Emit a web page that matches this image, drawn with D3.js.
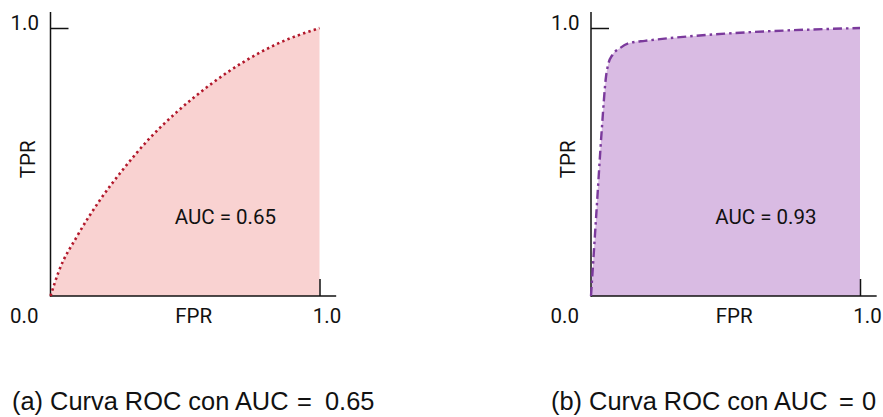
<!DOCTYPE html>
<html><head><meta charset="utf-8">
<script src="https://cdn.jsdelivr.net/npm/d3@7"></script>
<style>
html,body{margin:0;padding:0;background:#fff;}
svg{display:block;}
.tick-label{font-family:Roboto,"Liberation Sans",sans-serif;font-size:20.5px;fill:#111;}
.caption{font-family:"Liberation Sans",Arial,sans-serif;font-size:25.4px;fill:#111;}
</style></head>
<body>
<svg id="chart" width="883" height="417"></svg>
<script>
// ---- data ----
const fprA = [0, 0.03, 0.1, 0.184, 0.271, 0.37, 0.469, 0.593, 0.717, 0.841, 1];
const tprA = [0, 0.09, 0.225, 0.358, 0.474, 0.59, 0.686, 0.788, 0.873, 0.94, 1];
const fprB = [0, 0.02, 0.04, 0.056, 0.065, 0.08, 0.108, 0.14, 0.2, 1];
const tprB = [0, 0.31, 0.62, 0.82, 0.868, 0.9, 0.925, 0.943, 0.952, 1];
const aucLabels = ["AUC = 0.65", "AUC = 0.93"];
const captionHeads = ["(a) Curva ROC con AUC", "(b) Curva ROC con AUC"];
const captionValues = ["0.65", "0"];
const tickLabels = ["0.0", "1.0"];
const xTitle = "FPR";
const yTitle = "TPR";

const panels = [
  {fpr: fprA, tpr: tprA, auc: aucLabels[0], head: captionHeads[0], val: captionValues[0],
   x0: 50.5, fill: "#f9d2d1", stroke: "#b2182b", dash: "2.4 3.2", sw: 2.6,
   capX: 12, eqX: 297, valX: 325},
  {fpr: fprB, tpr: tprB, auc: aucLabels[1], head: captionHeads[1], val: captionValues[1],
   x0: 591, fill: "#d9bbe3", stroke: "#7b3a9c", dash: "9 4 2.5 4", sw: 2.4,
   capX: 551, eqX: 839, valX: 862}
];

const svg = d3.select("#chart");

panels.forEach(p => {
  const x = d3.scaleLinear().domain([0, 1]).range([p.x0, p.x0 + 269]);
  const y = d3.scaleLinear().domain([0, 1]).range([296, 28]);
  const g = svg.append("g");
  const pts = p.fpr.map((f, i) => [f, p.tpr[i]]);
  const curve = d3.curveMonotoneX;

  // area
  g.append("path").datum(pts)
    .attr("d", d3.area().x(d => x(d[0])).y0(y(0)).y1(d => y(d[1])).curve(curve))
    .attr("fill", p.fill);

  // axes (inward ticks)
  const xAxis = d3.axisBottom(x).tickValues([1]).tickSize(-17).tickFormat("");
  const yAxis = d3.axisLeft(y).tickValues([1]).tickSize(-18).tickFormat("");
  const gx = g.append("g").attr("transform", `translate(0,${y(0)})`).call(xAxis);
  const gy = g.append("g").attr("transform", `translate(${x(0)},0)`).call(yAxis);
  [gx, gy].forEach(a => {
    a.select(".domain").remove();
    a.selectAll(".tick line").attr("stroke", "#111").attr("stroke-width", 1.5);
  });
  g.append("line").attr("x1", x(0)).attr("x2", x(1.062)).attr("y1", y(0)).attr("y2", y(0))
    .attr("stroke", "#111").attr("stroke-width", 1.5);
  g.append("line").attr("x1", x(0)).attr("x2", x(0)).attr("y1", y(0) + 0.75).attr("y2", y(1.06))
    .attr("stroke", "#111").attr("stroke-width", 1.5);

  // curve
  g.append("path").datum(pts)
    .attr("d", d3.line().x(d => x(d[0])).y(d => y(d[1])).curve(curve))
    .attr("fill", "none").attr("stroke", p.stroke).attr("stroke-width", p.sw)
    .attr("stroke-dasharray", p.dash);

  // labels
  g.append("text").attr("class", "tick-label").attr("x", x(0) - 12).attr("y", y(0) + 27)
    .attr("text-anchor", "end").text(tickLabels[0]);
  g.append("text").attr("class", "tick-label").attr("x", x(1) + 7.5).attr("y", y(0) + 27)
    .attr("text-anchor", "middle").text(tickLabels[1]);
  g.append("text").attr("class", "tick-label").attr("x", x(0) - 11.5).attr("y", y(1) + 1.5)
    .attr("text-anchor", "end").text(tickLabels[1]);
  g.append("text").attr("class", "tick-label").attr("x", x(0.532)).attr("y", y(0) + 27)
    .attr("text-anchor", "middle").text(xTitle);
  g.append("text").attr("class", "tick-label")
    .attr("transform", `translate(${x(0) - 16},${y(0.51)}) rotate(-90)`)
    .attr("text-anchor", "middle").text(yTitle);
  g.append("text").attr("class", "tick-label").attr("x", x(0.65)).attr("y", y(0.268))
    .attr("text-anchor", "middle").text(p.auc);

  // caption (math-style spacing around "=")
  const cap = svg.append("text").attr("class", "caption").attr("y", 410);
  cap.append("tspan").attr("x", p.capX).text(p.head);
  cap.append("tspan").attr("x", p.eqX).text("=");
  cap.append("tspan").attr("x", p.valX).text(p.val);
});
</script>
</body></html>
